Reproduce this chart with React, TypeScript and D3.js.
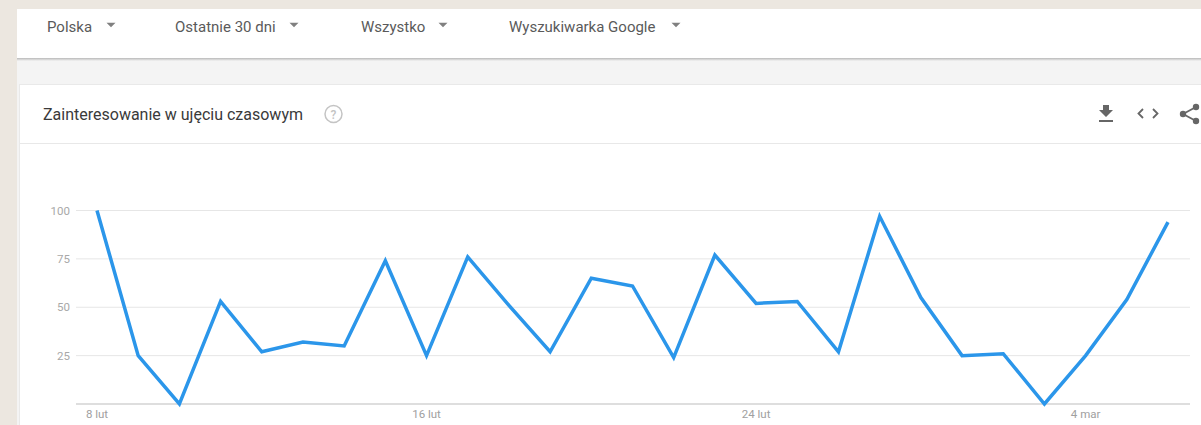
import React from "react";
import * as d3 from "d3";

const W = 1201;
const H = 425;

const dates: string[] = [
  "2018-02-08", "2018-02-09", "2018-02-10", "2018-02-11", "2018-02-12", "2018-02-13", "2018-02-14",
  "2018-02-15", "2018-02-16", "2018-02-17", "2018-02-18", "2018-02-19", "2018-02-20", "2018-02-21",
  "2018-02-22", "2018-02-23", "2018-02-24", "2018-02-25", "2018-02-26", "2018-02-27", "2018-02-28",
  "2018-03-01", "2018-03-02", "2018-03-03", "2018-03-04", "2018-03-05", "2018-03-06",
];
const values: number[] = [
  100, 25, 0, 53, 27, 32, 30, 74, 25, 76, 51, 27, 65, 61, 24, 77, 52, 53, 27, 97, 55, 25, 26, 0, 25, 54, 94,
];
const yTicks: number[] = [25, 50, 75, 100];
const xTickDates: string[] = ["2018-02-08", "2018-02-16", "2018-02-24", "2018-03-04"];
const xTickLabels: string[] = ["8 lut", "16 lut", "24 lut", "4 mar"];
const filters: string[] = ["Polska", "Ostatnie 30 dni", "Wszystko", "Wyszukiwarka Google"];
const filterX: number[] = [47, 175, 361, 509];
const filterArrowX: number[] = [111, 294, 443, 676];
const title = "Zainteresowanie w ujęciu czasowym";

const parse = d3.timeParse("%Y-%m-%d");

export default function App() {
  const x = d3
    .scaleTime()
    .domain([parse(dates[0])!, parse(dates[dates.length - 1])!])
    .range([97, 1168]);
  const y = d3.scaleLinear().domain([0, 100]).range([404, 210.5]);
  const data = dates.map((d, i) => ({ date: parse(d)!, value: values[i] }));
  const line = d3
    .line<{ date: Date; value: number }>()
    .x((d) => x(d.date))
    .y((d) => y(d.value));

  const font = "Roboto, 'Noto Sans', Arial, sans-serif";
  const tri = (cx: number, cy: number) =>
    `M${cx - 4.5},${cy - 2.2} L${cx + 4.5},${cy - 2.2} L${cx},${cy + 2.3} Z`;

  return (
    <svg
      width={W}
      height={H}
      style={{ position: "absolute", left: 0, top: 0, display: "block" }}
      fontFamily={font}
    >
      <defs>
        <linearGradient id="shadow" x1="0" y1="0" x2="0" y2="1">
          <stop offset="0" stopColor="#b9b9b9" />
          <stop offset="1" stopColor="#f4f4f4" />
        </linearGradient>
      </defs>
      {/* outer beige background */}
      <rect x={0} y={0} width={W} height={H} fill="#ece7e0" />
      {/* gray page */}
      <rect x={17} y={9} width={W - 17} height={H - 9} fill="#f4f4f4" />
      {/* top filter bar */}
      <rect x={17} y={9} width={W - 17} height={49} fill="#ffffff" />
      <rect x={17} y={58} width={W - 17} height={3} fill="url(#shadow)" />
      {filters.map((f, i) => (
        <g key={f}>
          <text x={filterX[i]} y={32} fontSize={15} fill="#5a5a5a">
            {f}
          </text>
          <path d={tri(filterArrowX[i], 25)} fill="#808080" />
        </g>
      ))}
      {/* card */}
      <rect x={19} y={84} width={W - 19} height={H - 84} fill="#e9e9e9" />
      <rect x={20} y={85} width={W - 20} height={H - 85} fill="#ffffff" />
      <text x={43} y={120} fontSize={16} fill="#3a3a3a">
        {title}
      </text>
      {/* help icon */}
      <circle cx={333.5} cy={114} r={8.5} fill="none" stroke="#c4c4c4" strokeWidth={1.5} />
      <text x={333.5} y={118.5} fontSize={12} fill="#c4c4c4" textAnchor="middle" fontWeight={500}>
        ?
      </text>
      {/* download icon */}
      <g fill="#666">
        <path d="M1103,105 h6 v5 h4 l-7,7 l-7,-7 h4 Z" />
        <rect x={1099} y={120} width={14} height={2} />
      </g>
      {/* code icon */}
      <g fill="none" stroke="#666" strokeWidth={1.8}>
        <path d="M1143,109 l-4.5,4.5 l4.5,4.5" />
        <path d="M1153,109 l4.5,4.5 l-4.5,4.5" />
      </g>
      {/* share icon */}
      <g fill="#666">
        <circle cx={1183} cy={114} r={3.2} />
        <circle cx={1196} cy={107} r={3.2} />
        <circle cx={1196} cy={121} r={3.2} />
        <path d="M1183,114 L1196,107 M1183,114 L1196,121" stroke="#666" strokeWidth={1.8} />
      </g>
      <line x1={20} x2={W} y1={143.5} y2={143.5} stroke="#e8e8e8" strokeWidth={1} />
      {/* grid */}
      {yTicks.map((t) => (
        <g key={t}>
          <line x1={76} x2={1190} y1={y(t)} y2={y(t)} stroke="#e6e6e6" strokeWidth={1} />
          <text x={70} y={y(t) + 4} fontSize={11.5} fill="#a8a8a8" textAnchor="end">
            {t}
          </text>
        </g>
      ))}
      <line x1={76} x2={1190} y1={y(0)} y2={y(0)} stroke="#bdbdbd" strokeWidth={1} />
      {xTickDates.map((d, i) => (
        <text
          key={d}
          x={x(parse(d)!)}
          y={418}
          fontSize={11.5}
          fill="#a0a0a0"
          textAnchor="middle"
        >
          {xTickLabels[i]}
        </text>
      ))}
      <path
        d={line(data) || ""}
        fill="none"
        stroke="#2b96ea"
        strokeWidth={3.5}
        strokeLinejoin="miter"
      />
    </svg>
  );
}
